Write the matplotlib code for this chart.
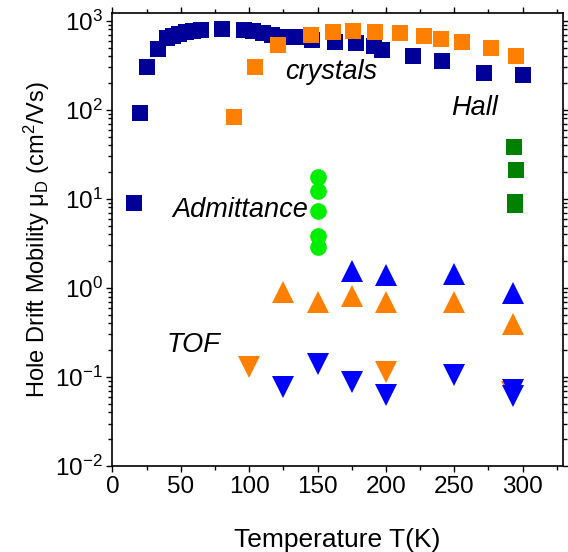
import matplotlib
matplotlib.use("Agg")
import matplotlib.pyplot as plt
from matplotlib.ticker import MultipleLocator, LogLocator, NullFormatter

plt.rcParams['font.family'] = ['Liberation Sans', 'DejaVu Sans']
plt.rcParams['mathtext.fontset'] = 'custom'
plt.rcParams['mathtext.rm'] = 'Liberation Sans'
plt.rcParams['mathtext.it'] = 'Liberation Sans:italic'
plt.rcParams['axes.unicode_minus'] = False

# Hall, crystals (navy squares)
hall_navy_T = [16, 20, 25, 33, 40, 44, 49, 54, 59, 65, 80, 96, 103, 110, 117, 123,
               135, 146, 163, 178, 191, 197, 220, 241, 272, 300]
hall_navy_mu = [9.0, 92, 305, 485, 634, 673, 709, 747, 773, 795, 800, 787, 773, 721, 690, 660,
                652, 607, 581, 557, 520, 469, 401, 355, 261, 245]
# Hall, crystals (orange squares)
hall_orange_T = [89, 104, 121, 145, 161, 176, 192, 210, 228, 240, 256, 277, 295]
hall_orange_mu = [84, 305, 533, 690, 753, 773, 753, 721, 673, 624, 581, 490, 405]
# Hall (dark green squares)
hall_green_T = [294, 295, 294.5, 294.5]
hall_green_mu = [38.5, 21.1, 9.2, 8.6]
# Admittance (green circles)
adm_T = [150, 150, 150, 150, 150]
adm_mu = [17.7, 12.2, 7.3, 3.83, 2.9]
# TOF up triangles
tof_up_blue_T = [175, 200, 250, 293]
tof_up_blue_mu = [1.54, 1.40, 1.43, 0.88]
tof_up_orange_T = [125, 150, 175, 200, 250, 293]
tof_up_orange_mu = [0.89, 0.70, 0.81, 0.70, 0.70, 0.393]
# TOF down triangles
tof_dn_orange_T = [100, 200, 292]
tof_dn_orange_mu = [0.130, 0.113, 0.067]
tof_dn_blue_T = [125, 150, 175, 200, 250, 293, 293]
tof_dn_blue_mu = [0.0765, 0.14, 0.087, 0.0627, 0.105, 0.0708, 0.0611]

NAVY = '#000099'
ORANGE = '#FF8000'
DGREEN = '#008000'
LIME = '#00EE00'
BLUE = '#0000FF'

fig = plt.figure(figsize=(5.68, 5.52), dpi=100)
ax = fig.add_axes([0.198, 0.1558, 0.793, 0.820])

sq = dict(marker='s', ms=11, ls='none', mew=0)
tri = dict(ms=15.5, ls='none', mew=0)
ax.plot(hall_navy_T, hall_navy_mu, color=NAVY, **sq)
ax.plot(hall_orange_T, hall_orange_mu, color=ORANGE, **sq)
ax.plot(hall_green_T, hall_green_mu, color=DGREEN, **sq)
ax.plot(adm_T, adm_mu, marker='o', ms=12, ls='none', mew=0, color=LIME)
ax.plot(tof_up_orange_T, tof_up_orange_mu, marker='^', color=ORANGE, **tri)
ax.plot(tof_up_blue_T, tof_up_blue_mu, marker='^', color=BLUE, **tri)
ax.plot(tof_dn_orange_T, tof_dn_orange_mu, marker='v', color=ORANGE, **tri)
ax.plot(tof_dn_blue_T, tof_dn_blue_mu, marker='v', color=BLUE, **tri)

ax.set_yscale('log')
ax.set_xlim(0, 329.5)
ax.set_ylim(0.01, 1211)
ax.xaxis.set_major_locator(MultipleLocator(50))
ax.xaxis.set_minor_locator(MultipleLocator(25))
ax.yaxis.set_major_locator(LogLocator(base=10, numticks=10))
ax.yaxis.set_minor_locator(LogLocator(base=10, subs=range(2, 10), numticks=20))
ax.yaxis.set_minor_formatter(NullFormatter())

ax.tick_params(which='both', direction='out', top=True, right=True, width=1.0,
               labelsize=17.5)
ax.tick_params(which='major', length=4, pad=3)
ax.tick_params(which='minor', length=3)
for s in ax.spines.values():
    s.set_linewidth(1.2)

ax.set_xlabel('Temperature T(K)', fontsize=19, labelpad=22)
ax.set_ylabel('Hole Drift Mobility μ$_\\mathrm{D}$ (cm$^2$/Vs)', fontsize=17, labelpad=2)

tkw = dict(fontsize=19.5, style='italic', va='center')
ax.text(160, 265, 'crystals', ha='center', **tkw)
ax.text(248, 105, 'Hall', ha='left', **tkw)
ax.text(44, 7.5, 'Admittance', ha='left', **tkw)
ax.text(39.5, 0.228, 'TOF', ha='left', **tkw)

fig.savefig('out.png', dpi=100)
